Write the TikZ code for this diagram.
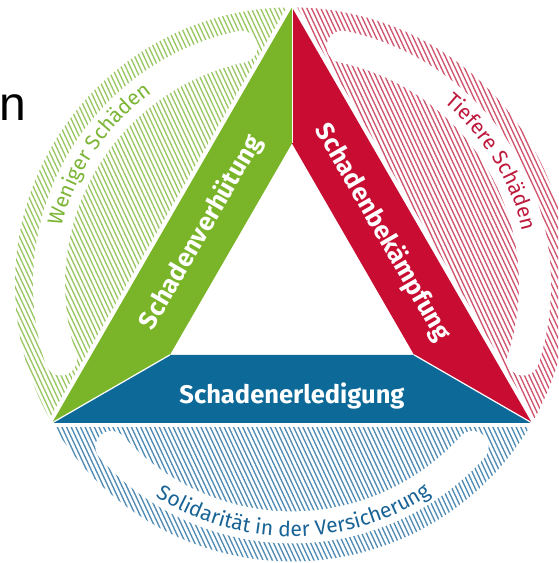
\documentclass[tikz,border=0pt]{standalone}
\usepackage{fontspec}
\setsansfont{Fira Sans}
\newfontfamily\nfont{Liberation Sans}
\usetikzlibrary{calc,decorations.text}
\definecolor{gband}{RGB}{122,181,41}
\definecolor{rband}{RGB}{200,12,50}
\definecolor{bband}{RGB}{13,105,152}
\definecolor{ghatch}{RGB}{155,199,100}
\definecolor{rhatch}{RGB}{208,85,110}
\definecolor{bhatch}{RGB}{80,140,180}
\definecolor{gtext}{RGB}{125,182,55}
\definecolor{rtext}{RGB}{190,25,60}
\definecolor{btext}{RGB}{25,100,150}
\newcommand\myarcfont{\sffamily\fontsize{21}{21}\selectfont}
\begin{document}
\begin{tikzpicture}[x=1pt,y=1pt,
  bandtext/.style={text=white, font=\sffamily\bfseries\fontsize{25.5}{25.5}\selectfont, inner sep=0pt},
  hatchline/.style={line width=1.35pt},
  gapband/.style={white, line width=32pt, line cap=round}]
\useasboundingbox (0,0) rectangle (558,563);
\clip (0,0) rectangle (558,563);
\coordinate (C) at (292,278.6);
\def\R{277}
% outer and inner vertices
\coordinate (A) at ($(C)+(90:\R)$);
\coordinate (B) at ($(C)+(210:\R)$);
\coordinate (V) at ($(C)+(330:\R)$);
\coordinate (a) at ($(C)+(90:141)$);
\coordinate (b) at ($(C)+(210:141)$);
\coordinate (c) at ($(C)+(330:141)$);
% hatched segments
\foreach \phi/\hc/\ta/\tb in {150/ghatch/102/198, 30/rhatch/-18/78, 270/bhatch/222/318}{
  \begin{scope}
    \clip (C) circle (\R);
    \clip[shift={(C)}, rotate=\phi] (143,-300) rectangle (300,300);
    \begin{scope}[shift={(C)}, rotate=25]
      \foreach \k in {-70,...,70}
        \draw[hatchline, \hc] ({\k*4.2},-300) -- ({\k*4.2},300);
    \end{scope}
    \draw[gapband] ($(C)+(\ta:243)$) arc[start angle=\ta, end angle=\tb, radius=243];
  \end{scope}
}
% triangle bands
\fill[gband] (A) -- (B) -- (b) -- (a) -- cycle;
\fill[bband] (B) -- (V) -- (c) -- (b) -- cycle;
\fill[rband] (V) -- (A) -- (a) -- (c) -- cycle;
\draw[white, line width=1.2pt] (B) -- (b) (V) -- (c);
\draw[white, line width=0.6pt] (A) -- (a);
% band labels
\node[bandtext, rotate=60] (tg) at (201.4,330.4) {Schadenverhütung};
\node[bandtext, rotate=-60] (tr) at (382.6,330.4) {Schadenbekämpfung};
\node[bandtext] (tb) at (292,167) {Schadenerledigung};
% arc labels
\path[decorate, decoration={text along path, text align=center,
  text={|\myarcfont\color{gtext}|Weniger Schäden}}]
  ($(C)+(172:237)$) arc[start angle=172, end angle=120, radius=237];
\path[decorate, decoration={text along path, text align=center,
  text={|\myarcfont\color{rtext}|Tiefere Schäden}}]
  ($(C)+(60:237)$) arc[start angle=60, end angle=3, radius=237];
\path[decorate, decoration={text along path, text align=center,
  text={|\myarcfont\color{btext}|Solidarität in der Versicherung}}]
  ($(C)+(222:252)$) arc[start angle=222, end angle=319, radius=252];
% cut-off letter at the left
\node[font=\nfont\fontsize{48}{48}\selectfont, anchor=base east, inner sep=0pt] (nn) at (26,442) {n};
\end{tikzpicture}
\end{document}
